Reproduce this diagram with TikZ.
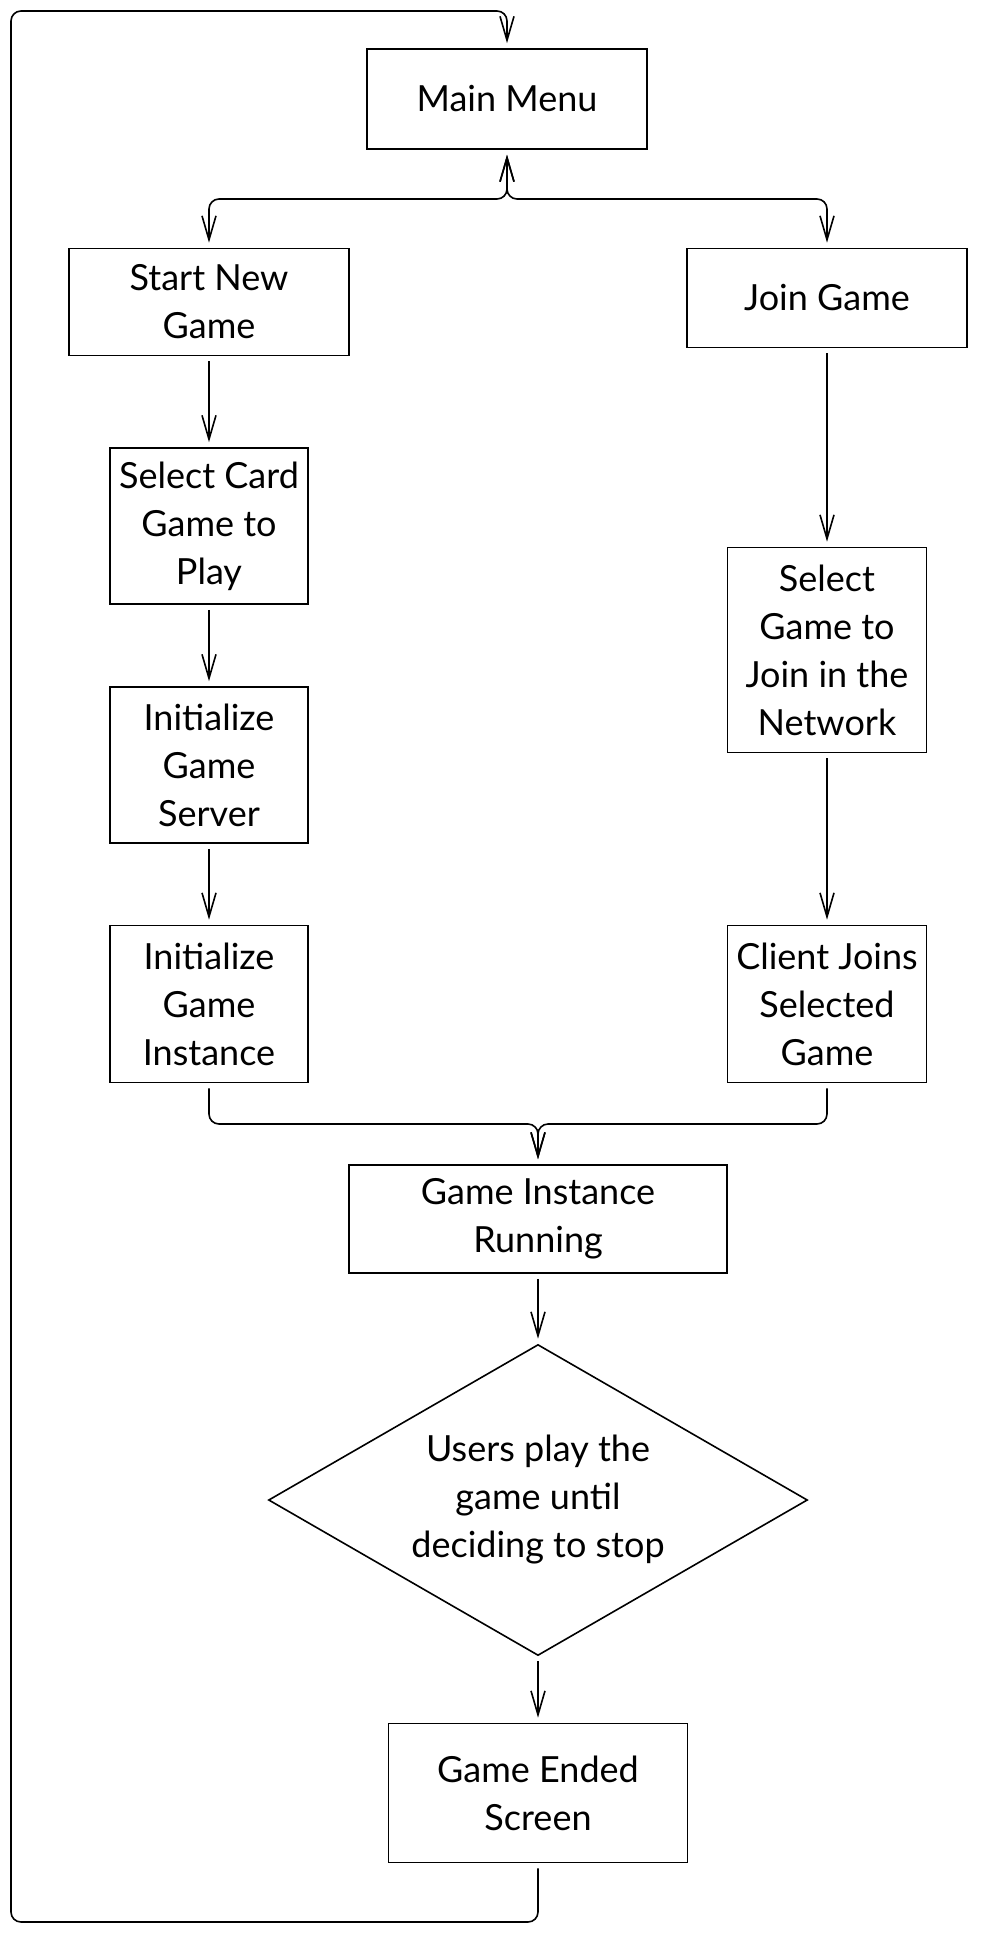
\documentclass[tikz,border=0pt]{standalone}
\usepackage{fontspec}
\setmainfont{Lato}
\usetikzlibrary{arrows.meta}
\usetikzlibrary{shapes.geometric}

\begin{document}
\begin{tikzpicture}[x=1pt,y=-1pt,
        box/.style={draw,line width=1.6pt,rectangle,align=center,inner sep=0pt},
        decision/.style={draw,line width=1.6pt,diamond,aspect=1.73,align=center,inner sep=0pt},
        flow/.style={line width=1.6pt,rounded corners=10pt,shorten <=5pt,shorten >=5pt,
            -{Straight Barb[length=24pt,width=14pt,line width=1.6pt]}},
        twoway/.style={flow,{Straight Barb[length=24pt,width=14pt,line width=1.6pt]}-{Straight Barb[length=24pt,width=14pt,line width=1.6pt]}}]
        \useasboundingbox (0,0) rectangle (980,1940);
        \fontsize{36}{48}\selectfont

        \node[box,minimum width=280,minimum height=100] (menu) at(507,99){Main Menu};
        \node[box,minimum width=280,minimum height=107] (start) at(209,302){Start New\\Game};
        \node[box,minimum width=280,minimum height=99] (join) at(827,298){Join Game};
        \node[box,minimum width=198,minimum height=156] (card) at(209,526){Select Card\\Game to\\Play};
        \node[box,minimum width=198,minimum height=156] (server) at(209,765){Initialize\\Game\\Server};
        \node[box,minimum width=198,minimum height=157] (instance) at(209,1004){Initialize\\Game\\Instance};
        \node[box,minimum width=199,minimum height=205] (pick) at(827,650){Select\\Game to\\Join in the\\Network};
        \node[box,minimum width=199,minimum height=157] (client) at(827,1004){Client Joins\\Selected\\Game};
        \node[box,minimum width=378,minimum height=108] (running) at(538,1219){Game Instance\\Running};
        \node[decision,minimum width=539,minimum height=311] (play) at(538,1500){Users play the\\game until\\deciding to stop};
        \node[box,minimum width=299,minimum height=139] (ended) at(538,1793){Game Ended\\Screen};

        \coordinate (fork) at(507,199);
        \coordinate (merge) at(538,1124);
        \coordinate (loopbl) at(11,1922);
        \coordinate (looptl) at(11,11);

        \draw[twoway] (start.north) -- (start.north |- fork) -- (fork) -- (menu.south);
        \draw[twoway] (join.north) -- (join.north |- fork) -- (fork) -- (menu.south);
        \draw[flow] (start) -- (card);
        \draw[flow] (card) -- (server);
        \draw[flow] (server) -- (instance);
        \draw[flow] (join) -- (pick);
        \draw[flow] (pick) -- (client);
        \draw[flow] (instance.south) -- (instance.south |- merge) -- (merge) -- (running.north);
        \draw[flow] (client.south) -- (client.south |- merge) -- (merge) -- (running.north);
        \draw[flow] (running) -- (play);
        \draw[flow] (play) -- (ended);
        \draw[flow] (ended.south) -- (ended.south |- loopbl) -- (loopbl) -- (looptl) -- (looptl -| menu.north) -- (menu.north);
    \end{tikzpicture}
\end{document}
